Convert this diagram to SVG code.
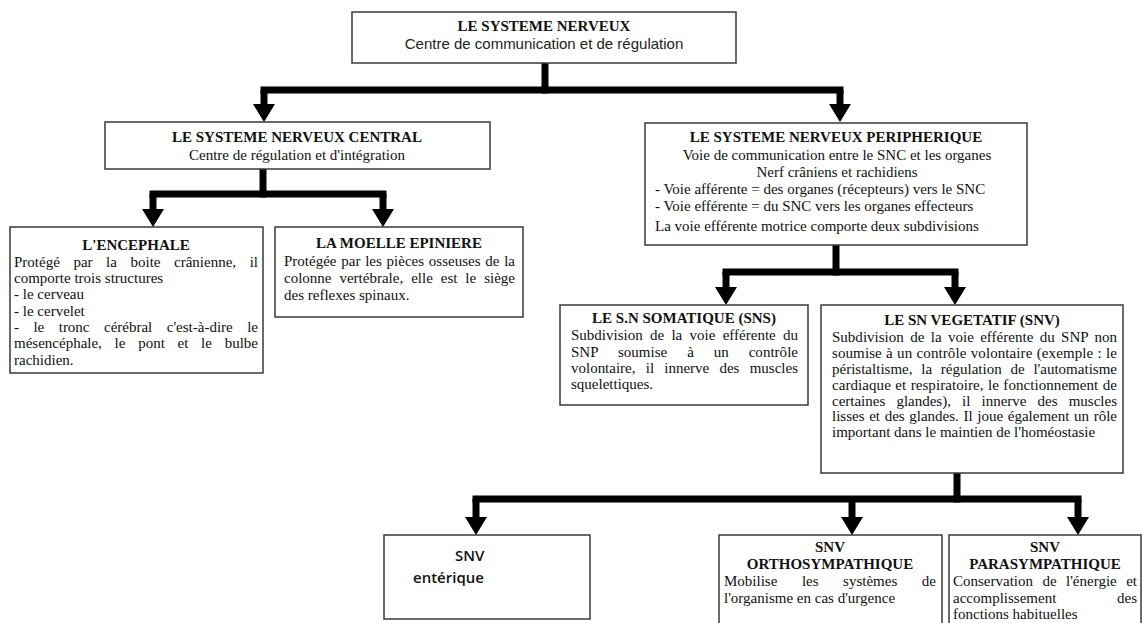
<svg xmlns="http://www.w3.org/2000/svg" width="1142" height="623" viewBox="0 0 1142 623">
<style>
.box{fill:#fff;stroke:#3a3a3a;stroke-width:1.5}
.t{font-family:"Liberation Serif","Times New Roman",serif;font-weight:bold;font-size:15px;fill:#111;text-anchor:middle}
.b{font-family:"Liberation Serif","Times New Roman",serif;font-size:15px;fill:#111}
.m{text-anchor:middle}
.e{text-anchor:end}
.s{font-family:"Liberation Sans",Arial,sans-serif;font-size:15px;fill:#222;text-anchor:middle}
.c{font-family:"Open Sans","Liberation Sans",sans-serif;font-weight:600;font-size:15px;fill:#111}
.ln{fill:none;stroke:#000;stroke-width:7;stroke-linecap:square}
.dr{fill:none;stroke:#000;stroke-width:7;stroke-linecap:butt;marker-end:url(#ah)}
</style>
<defs>
<marker id="ah" viewBox="0 0 18 22" refX="0" refY="11" markerWidth="18" markerHeight="22" markerUnits="userSpaceOnUse" orient="auto">
<path d="M0,0 L18,11 L0,22 z" fill="#000"/>
</marker>
</defs>
<rect width="1142" height="623" fill="#fff"/>

<g id="connectors">
<path class="ln" d="M545,63 V90"/>
<path class="ln" d="M264,90 H840"/>
<path class="dr" d="M264,90 V104"/>
<path class="dr" d="M840,90 V104"/>

<path class="ln" d="M263,169 V194"/>
<path class="ln" d="M153,194 H383"/>
<path class="dr" d="M153,194 V209"/>
<path class="dr" d="M383,194 V209"/>

<path class="ln" d="M836,245 V272"/>
<path class="ln" d="M726,272 H955"/>
<path class="dr" d="M726,272 V287"/>
<path class="dr" d="M955,272 V287"/>

<path class="ln" d="M957,473 V499"/>
<path class="ln" d="M476,499 H1078"/>
<path class="dr" d="M476,499 V517"/>
<path class="dr" d="M852,499 V517"/>
<path class="dr" d="M1078,499 V517"/>
</g>

<g id="systeme-nerveux">
<rect class="box" x="352" y="12" width="384" height="51"/>
<text class="t" x="544" y="31">LE SYSTEME NERVEUX</text>
<text class="s" x="544" y="49">Centre de communication et de régulation</text>
</g>

<g id="snc">
<rect class="box" x="105" y="122" width="385" height="47"/>
<text class="t" x="297" y="142">LE SYSTEME NERVEUX CENTRAL</text>
<text class="b m" x="297" y="160">Centre de régulation et d'intégration</text>
</g>

<g id="snp">
<rect class="box" x="645" y="123" width="382" height="122"/>
<text class="t" x="836" y="142">LE SYSTEME NERVEUX PERIPHERIQUE</text>
<text class="b m" x="837" y="160">Voie de communication entre le SNC et les organes</text>
<text class="b m" x="837" y="177">Nerf crâniens et rachidiens</text>
<text class="b" x="655" y="194">- Voie afférente = des organes (récepteurs) vers le SNC</text>
<text class="b" x="655" y="211">- Voie efférente = du SNC vers les organes effecteurs</text>
<text class="b" x="655" y="231">La voie efférente motrice comporte deux subdivisions</text>
</g>

<g id="encephale">
<rect class="box" x="10" y="227" width="253" height="146"/>
<text class="t" x="136" y="250">L'ENCEPHALE</text>
<text class="b" x="14" y="267" word-spacing="9.8" textLength="244" lengthAdjust="spacing">Protégé par la boite crânienne, il</text>
<text class="b" x="14" y="283">comporte trois structures</text>
<text class="b" x="14" y="299">- le cerveau</text>
<text class="b" x="14" y="316">- le cervelet</text>
<text class="b" x="14" y="332" word-spacing="10.7" textLength="244" lengthAdjust="spacing">- le tronc cérébral c'est-à-dire le</text>
<text class="b" x="14" y="348" word-spacing="9" textLength="244" lengthAdjust="spacing">mésencéphale, le pont et le bulbe</text>
<text class="b" x="14" y="365">rachidien.</text>
</g>

<g id="moelle">
<rect class="box" x="275" y="227" width="248" height="90"/>
<text class="t" x="399" y="248">LA MOELLE EPINIERE</text>
<text class="b" x="284" y="266" word-spacing="1" textLength="231" lengthAdjust="spacing">Protégée par les pièces osseuses de la</text>
<text class="b" x="284" y="283" word-spacing="4.2" textLength="231" lengthAdjust="spacing">colonne vertébrale, elle est le siège</text>
<text class="b" x="284" y="300">des reflexes spinaux.</text>
</g>

<g id="sns">
<rect class="box" x="560" y="305" width="248" height="100"/>
<text class="t" x="684" y="323">LE S.N SOMATIQUE (SNS)</text>
<text class="b" x="571" y="340" word-spacing="3.5" textLength="227" lengthAdjust="spacing">Subdivision de la voie efférente du</text>
<text class="b" x="571" y="357" word-spacing="16.1" textLength="227" lengthAdjust="spacing">SNP soumise à un contrôle</text>
<text class="b" x="571" y="373" word-spacing="6.5" textLength="227" lengthAdjust="spacing">volontaire, il innerve des muscles</text>
<text class="b" x="571" y="389">squelettiques.</text>
</g>

<g id="snv">
<rect class="box" x="821" y="305" width="302" height="168"/>
<text class="t" x="972" y="325">LE SN VEGETATIF (SNV)</text>
<text class="b" x="832" y="342" word-spacing="2.6" textLength="285" lengthAdjust="spacing">Subdivision de la voie efférente du SNP non</text>
<text class="b" x="832" y="358" word-spacing="0.4" textLength="285" lengthAdjust="spacing">soumise à un contrôle volontaire (exemple : le</text>
<text class="b" x="832" y="374" word-spacing="5" textLength="285" lengthAdjust="spacing">péristaltisme, la régulation de l'automatisme</text>
<text class="b" x="832" y="390" word-spacing="0.6" textLength="285" lengthAdjust="spacing">cardiaque et respiratoire, le fonctionnement de</text>
<text class="b" x="832" y="406" word-spacing="7.4" textLength="285" lengthAdjust="spacing">certaines glandes), il innerve des muscles</text>
<text class="b" x="832" y="421" word-spacing="0.9" textLength="285" lengthAdjust="spacing">lisses et des glandes. Il joue également un rôle</text>
<text class="b" x="832" y="437">important dans le maintien de l'homéostasie</text>
</g>

<g id="snv-enterique">
<rect class="box" x="384" y="535" width="206" height="84"/>
<text class="c" x="455" y="561">SNV</text>
<text class="c" x="413" y="583">entérique</text>
</g>

<g id="snv-ortho">
<rect class="box" x="719" y="535" width="223" height="100"/>
<text class="t" x="830" y="552">SNV</text>
<text class="t" x="830" y="569">ORTHOSYMPATHIQUE</text>
<text class="b" x="724" y="586" word-spacing="20.8" textLength="212" lengthAdjust="spacing">Mobilise les systèmes de</text>
<text class="b" x="724" y="603">l'organisme en cas d'urgence</text>
</g>

<g id="snv-para">
<rect class="box" x="949" y="535" width="192" height="100"/>
<text class="t" x="1045" y="552">SNV</text>
<text class="t" x="1045" y="569">PARASYMPATHIQUE</text>
<text class="b" x="953" y="586" word-spacing="5.7" textLength="184" lengthAdjust="spacing">Conservation de l'énergie et</text>
<text class="b" x="953" y="603">accomplissement</text>
<text class="b e" x="1137" y="603">des</text>
<text class="b" x="953" y="619">fonctions habituelles</text>
</g>
</svg>
